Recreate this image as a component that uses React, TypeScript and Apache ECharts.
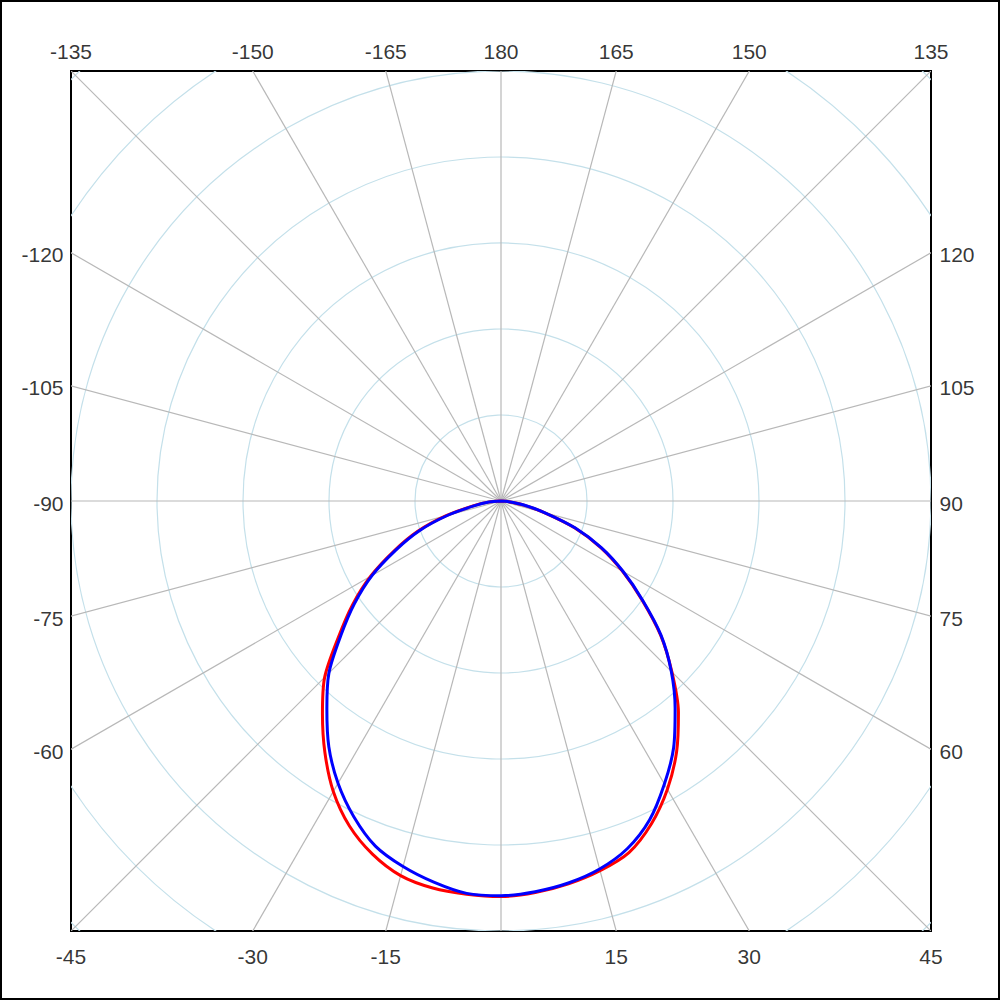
import React, { useEffect, useRef } from 'react';
import * as echarts from 'echarts';

// Angles (degrees): 0 = straight down, positive to the right, 180 = up
const angles = [-90, -85, -80, -75, -70, -65, -60, -55, -50, -45, -40, -35, -30, -25, -20, -15, -10, -5, 0,
  5, 10, 15, 20, 25, 30, 35, 40, 45, 50, 55, 60, 65, 70, 75, 80, 85, 90];

const redValues = [0, 15, 33, 66, 103, 137, 175, 211, 247, 290, 323, 357, 390, 417, 437, 451, 457, 459, 460,
  457, 452, 445, 435, 414, 387, 356, 321, 281, 242, 200, 163, 128, 91, 52, 26, 8, 0];

const blueValues = [0, 14, 31, 64, 101, 135, 173, 208, 243, 283, 315, 349, 379, 405, 427, 440, 450, 458, 459,
  456, 451, 443, 430, 409, 380, 350, 315, 280, 243, 201, 164, 129, 92, 53, 27, 9, 0];

const ringValues = [100, 200, 300, 400, 500, 600, 700];
const spokeAngles = [-180, -165, -150, -135, -120, -105, -90, -75, -60, -45, -30, -15, 0, 15, 30, 45, 60, 75, 90, 105, 120, 135, 150, 165];

const topLabels = [-135, -150, -165, 180, 165, 150, 135];
const leftLabels = [-120, -105, -90, -75, -60];
const rightLabels = [120, 105, 90, 75, 60];
const bottomLabels = [-45, -30, -15, 15, 30, 45];

const AXIS_MAX = 500;
const FONT = 'Liberation Sans';

function toXY(r: number, deg: number): number[] {
  const a = (deg * Math.PI) / 180;
  return [r * Math.sin(a), -r * Math.cos(a)];
}

function edgePoint(deg: number): number[] {
  const [dx, dy] = toXY(1, deg);
  const t = AXIS_MAX / Math.max(Math.abs(dx), Math.abs(dy));
  return [dx * t, dy * t];
}

function labelSeries(list: number[], label: any) {
  return {
    type: 'scatter',
    silent: true,
    clip: false,
    symbolSize: 1,
    itemStyle: { color: 'rgba(0,0,0,0)' },
    z: 10,
    data: list.map((a) => ({ value: edgePoint(a), name: String(a) })),
    label: {
      show: true,
      formatter: '{b}',
      color: '#000',
      fontFamily: FONT,
      fontSize: 21,
      ...label,
    },
  };
}

export default function App() {
  const ref = useRef<HTMLDivElement>(null);

  useEffect(() => {
    if (!ref.current) return;
    const chart = echarts.init(ref.current, null, { renderer: 'svg' });

    const option: any = {
      animation: false,
      backgroundColor: '#fff',
      graphic: [
        {
          type: 'rect',
          silent: true,
          z: 100,
          shape: { x: 1, y: 1, width: 998, height: 998 },
          style: { fill: 'none', stroke: '#000', lineWidth: 2 },
        },
      ],
      grid: {
        left: 71,
        top: 71,
        width: 860,
        height: 860,
        show: true,
        borderColor: '#000',
        borderWidth: 2,
        backgroundColor: '#fff',
      },
      xAxis: { type: 'value', min: -AXIS_MAX, max: AXIS_MAX, show: false },
      yAxis: { type: 'value', min: -AXIS_MAX, max: AXIS_MAX, show: false },
      series: [
        {
          type: 'custom',
          silent: true,
          clip: true,
          z: 1,
          data: ringValues.map((r) => [r, 0]),
          renderItem: (params: any, api: any) => {
            const r = api.value(0);
            const c = api.coord([0, 0]);
            const s = api.size([r, 0]);
            return {
              type: 'circle',
              shape: { cx: c[0], cy: c[1], r: s[0] },
              style: { fill: 'none', stroke: '#c4e0ea', lineWidth: 1.2 },
            };
          },
        },
        {
          type: 'custom',
          silent: true,
          clip: true,
          z: 2,
          data: spokeAngles.map((a) => [a, 0]),
          renderItem: (params: any, api: any) => {
            const a = api.value(0);
            const c = api.coord([0, 0]);
            const e = api.coord(toXY(900, a));
            return {
              type: 'line',
              shape: { x1: c[0], y1: c[1], x2: e[0], y2: e[1] },
              style: { stroke: '#b8b8b8', lineWidth: 1.2 },
            };
          },
        },
        {
          type: 'line',
          name: 'red',
          z: 5,
          showSymbol: false,
          symbol: 'none',
          silent: true,
          smooth: 0.3,
          lineStyle: { color: '#ff0000', width: 3 },
          data: angles.map((a, i) => toXY(redValues[i], a)),
        },
        {
          type: 'line',
          name: 'blue',
          z: 6,
          showSymbol: false,
          symbol: 'none',
          silent: true,
          smooth: 0.3,
          lineStyle: { color: '#0000ff', width: 3 },
          data: angles.map((a, i) => toXY(blueValues[i], a)),
        },
        labelSeries(topLabels, { position: 'inside', align: 'center', verticalAlign: 'middle', offset: [0, -20] }),
        labelSeries(bottomLabels, { position: 'inside', align: 'center', verticalAlign: 'middle', offset: [0, 25] }),
        labelSeries(leftLabels, { position: 'left', distance: 7, offset: [0, 2] }),
        labelSeries(rightLabels, { position: 'right', distance: 8, offset: [0, 2] }),
      ],
    };

    chart.setOption(option);
    return () => chart.dispose();
  }, []);

  return (
    <div
      ref={ref}
      style={{ position: 'absolute', left: 0, top: 0, width: 1000, height: 1000 }}
    />
  );
}
